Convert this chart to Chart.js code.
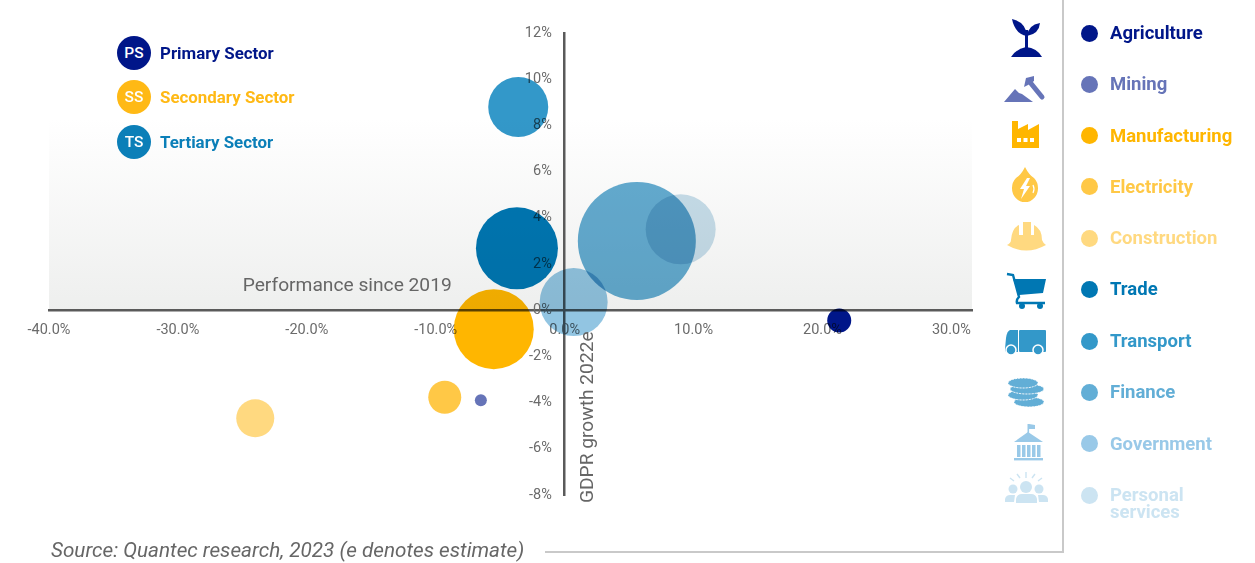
<!DOCTYPE html>
<html>
<head>
<meta charset="utf-8">
<title>Sector performance and GDPR growth</title>
<script src="https://cdn.jsdelivr.net/npm/chart.js@4"></script>
<style>
  html, body { margin: 0; padding: 0; background: #fff; }
  #page { position: relative; width: 1255px; height: 563px; overflow: hidden; font-family: Roboto, sans-serif; }
  #page canvas { position: absolute; left: 0; top: 0; }
  #art { position: absolute; left: 0; top: 0; }
  .sector, .entry { position: absolute; font-weight: 700; white-space: nowrap; }
  .sector { left: 160px; font-size: 16.9px; line-height: 20px; }
  .entry { left: 1110px; font-size: 18.5px; line-height: 17px; }
  .dot { position: absolute; border-radius: 50%; }
  .badge { position: absolute; left: 117px; width: 34px; height: 34px; border-radius: 50%; color: #fff;
           font-size: 15.5px; font-weight: 500; line-height: 34px; text-align: center; }
  #source { position: absolute; left: 51px; top: 538px; font-size: 20.7px; line-height: 24px; font-style: italic; color: #666; white-space: nowrap; }
  #rule { position: absolute; left: 545px; top: 551px; width: 519px; height: 2px; background: #c9c9c9; }
  #divider { position: absolute; left: 1062px; top: 0; width: 2px; height: 553px; background: #c9c9c9; }
</style>
</head>
<body>
<div id="page">
  <canvas id="chart" width="1255" height="563"></canvas>
  <svg id="art" width="1255" height="563" viewBox="0 0 1255 563">
    <!-- Agriculture: seedling -->
    <g fill="#001689">
      <path d="M1012,19 Q1026,22 1027,36 Q1015,34 1012,19Z"/>
      <path d="M1040,23 Q1039,34 1027,36 Q1028,25 1040,23Z"/>
      <rect x="1025" y="30" width="3" height="20"/>
      <path d="M1011,57 Q1016,49 1026,47 Q1037,48 1042,57Z"/>
    </g>
    <!-- Mining: mountains and pick -->
    <g fill="#6674b8">
      <path d="M1004,102 L1015,89 L1019,93 L1022,94 L1033,102Z"/>
      <path d="M1029,81 L1042,97" stroke="#6674b8" stroke-width="5" stroke-linecap="round"/>
      <path d="M1024,87 L1026,78 L1034,76 L1034,81 L1028,85Z"/>
    </g>
    <!-- Manufacturing: factory -->
    <path fill="#ffb600" d="M1012,121 L1018,121 L1018,129 L1028,124 L1028,130 L1039,124 L1039,148 L1012,148Z"/>
    <g fill="#fff">
      <rect x="1017" y="138" width="4" height="4"/><rect x="1023.5" y="138" width="4" height="4"/><rect x="1030" y="138" width="4" height="4"/>
    </g>
    <!-- Electricity: drop with a bolt -->
    <path fill="#ffc846" d="M1025,167 Q1029,175 1034,178 A13,14 0 1 1 1016,178 Q1021,175 1025,167Z"/>
    <path fill="#fff" d="M1027,178 L1020,189 L1024,189 L1021,199 L1030,186 L1026,186 L1030,178Z"/>
    <path fill="none" stroke="#fff" stroke-width="1.2" d="M1033,185 Q1035,189 1033,193"/>
    <!-- Construction: hard hat -->
    <path fill="#ffd980" d="M1007,245 Q1011,243 1011,240 Q1012,228 1019,225 L1019,235 L1023,235 L1023,222 L1031,222 L1031,235 L1034,235 L1034,225 Q1042,229 1042,240 Q1043,243 1046,245 Q1026,256 1007,245Z"/>
    <!-- Trade: shopping cart -->
    <g fill="#0077b3" stroke="none">
      <path d="M1013,279 L1046,279 L1043,293 L1019,295Z"/>
      <path d="M1007,274 L1013,275 L1019,297 Q1016,300 1017,303 L1045,303" fill="none" stroke="#0077b3" stroke-width="2.4"/>
      <circle cx="1022" cy="306" r="3"/><circle cx="1040" cy="306" r="3"/>
    </g>
    <!-- Transport: delivery truck -->
    <g fill="#3398c9">
      <rect x="1019" y="330" width="27" height="22" rx="1"/>
      <path d="M1010,330 L1018,330 L1018,352 L1007,352 Q1005,352 1005,349 L1006,338 Q1007,331 1010,330Z"/>
      <circle cx="1011" cy="350" r="5" stroke="#fff" stroke-width="1.5"/>
      <circle cx="1038" cy="350" r="5" stroke="#fff" stroke-width="1.5"/>
    </g>
    <!-- Finance: stacked coins -->
    <g fill="#62aed6" stroke="#fff" stroke-width="1" stroke-dasharray="2 1">
      <ellipse cx="1029" cy="402" rx="15" ry="5"/>
      <ellipse cx="1023" cy="395" rx="15" ry="5"/>
      <ellipse cx="1027" cy="389" rx="17" ry="5"/>
      <ellipse cx="1023" cy="383" rx="15" ry="5"/>
    </g>
    <!-- Government: columned building with flag -->
    <g fill="#99c9e8">
      <rect x="1027.5" y="424" width="1.6" height="10"/>
      <path d="M1029,424 L1035,425 L1035,429 L1029,429Z"/>
      <path d="M1014,442 L1028,432 L1043,442Z"/>
      <rect x="1017" y="445" width="3.5" height="12"/><rect x="1022" y="445" width="3.5" height="12"/><rect x="1027" y="445" width="3.5" height="12"/><rect x="1032" y="445" width="3.5" height="12"/><rect x="1037" y="445" width="3.5" height="12"/>
      <rect x="1014" y="458" width="29" height="2.4"/>
    </g>
    <!-- Personal services: group of people -->
    <g fill="#cce4f2">
      <circle cx="1026" cy="487" r="6"/><circle cx="1013" cy="489" r="4.5"/><circle cx="1039" cy="489" r="4.5"/>
      <path d="M1016,503 L1016,499 Q1017,494 1022,494 L1031,494 Q1036,494 1037,499 L1037,503Z"/>
      <path d="M1005,502 L1005,499 Q1006,495 1010,495 L1015,495 L1014,502Z"/>
      <path d="M1048,502 L1048,499 Q1047,495 1043,495 L1038,495 L1039,502Z"/>
      <g stroke="#cce4f2" stroke-width="1.4">
        <path d="M1026,472 V478 M1017,474 L1020,478 M1035,474 L1032,478 M1010,478 L1014,481 M1042,478 L1038,481"/>
      </g>
    </g>
  </svg>
  <div id="rule"></div>
  <div id="divider"></div>
  <div id="source">Source: Quantec research, 2023 (e denotes estimate)</div>
</div>
<script>
// Sector figures: change since 2019 (%), GDPR growth for 2022e (%) and bubble radius.
const categories = ['Agriculture', 'Mining', 'Manufacturing', 'Electricity', 'Construction',
                    'Trade', 'Transport', 'Finance', 'Government', 'Personal services'];
const performanceSince2019 = [21.3, -6.5, -5.5, -9.3, -24.0, -3.7, -3.6, 5.6, 0.7, 9.0];
const growth2022e = [-0.45, -3.9, -0.82, -3.77, -4.68, 2.68, 8.8, 3.0, 0.35, 3.5];
const bubbleRadius = [12, 6, 40, 16.5, 19, 41, 30, 59, 34, 35];
const categoryColors = ['#001689', '#6674b8', '#ffb600', '#ffc846', '#ffd980',
                        '#0077b3', '#3398c9', '#64acd1', '#92c5e2', '#c8deeb'];
const labelColors = ['#001689', '#6674b8', '#ffb600', '#ffc846', '#ffd980',
                     '#0077b3', '#3398c9', '#62aed6', '#99c9e8', '#cce4f2'];
const sectorNames = ['Primary Sector', 'Secondary Sector', 'Tertiary Sector'];
const sectorCodes = ['PS', 'SS', 'TS'];
const sectorColors = ['#001689', '#ffb915', '#0b7fb8'];

const page = document.getElementById('page');

// Right-hand key: a dot and a name per category.
const keyRows = [33, 84, 135.5, 186.5, 238, 289, 341, 392, 443.5, 495];
categories.forEach((name, i) => {
  const dot = document.createElement('div');
  dot.className = 'dot';
  dot.style.cssText = `left:1081px;top:${keyRows[i] - 8.5}px;width:17px;height:17px;background:${labelColors[i]}`;
  page.appendChild(dot);
  const text = document.createElement('div');
  text.className = 'entry';
  text.style.color = labelColors[i];
  text.style.top = Math.round(keyRows[i] - 8) + 'px';
  text.innerHTML = name.replace(' ', '<br>');
  page.appendChild(text);
});

// Top-left key for the three economic sectors.
const sectorRows = [53, 97, 142];
sectorNames.forEach((name, i) => {
  const badge = document.createElement('div');
  badge.className = 'badge';
  badge.textContent = sectorCodes[i];
  badge.style.top = (sectorRows[i] - 17) + 'px';
  badge.style.background = sectorColors[i];
  page.appendChild(badge);
  const text = document.createElement('div');
  text.className = 'sector';
  text.textContent = name;
  text.style.top = (sectorRows[i] - 10) + 'px';
  text.style.color = sectorColors[i];
  page.appendChild(text);
});

// Paints the grey band above the horizontal axis, multiplies the bubbles onto it,
// and writes the two axis captions beside the axis lines.
const quadrantDecor = {
  id: 'quadrantDecor',
  beforeDraw(chart) {
    const { ctx, scales: { x, y } } = chart;
    const top = y.getPixelForValue(8.3), bottom = y.getPixelForValue(0);
    const band = ctx.createLinearGradient(0, top, 0, bottom);
    band.addColorStop(0, '#ffffff');
    band.addColorStop(1, '#eeefee');
    ctx.save();
    ctx.fillStyle = '#ffffff';
    ctx.fillRect(0, 0, chart.width, chart.height);
    ctx.fillStyle = band;
    ctx.fillRect(x.left, top, x.right - x.left, bottom - top);
    ctx.restore();
  },
  beforeDatasetDraw(chart) {
    chart.ctx.save();
    chart.ctx.globalCompositeOperation = 'multiply';
  },
  afterDatasetDraw(chart) {
    chart.ctx.restore();
  },
  afterDraw(chart) {
    const { ctx, scales: { x, y } } = chart;
    ctx.save();
    ctx.fillStyle = '#666';
    ctx.textBaseline = 'middle';
    ctx.textAlign = 'right';
    ctx.font = '19.2px Roboto, sans-serif';
    ctx.fillText('Performance since 2019', x.getPixelForValue(-8.76), y.getPixelForValue(1.05));
    ctx.translate(x.getPixelForValue(1.8), y.getPixelForValue(-8.35));
    ctx.rotate(-Math.PI / 2);
    ctx.textAlign = 'left';
    ctx.fillText('GDPR growth 2022e', 0, 0);
    ctx.restore();
  }
};

new Chart(document.getElementById('chart'), {
  type: 'bubble',
  data: {
    datasets: categories.map((name, i) => ({
      label: name,
      data: [{ x: performanceSince2019[i], y: growth2022e[i], r: bubbleRadius[i] }],
      backgroundColor: categoryColors[i],
      borderWidth: 0,
      hoverBorderWidth: 0
    }))
  },
  options: {
    responsive: false,
    animation: false,
    // The plot bounds are set by hand, so the largest bubble must not widen them.
    layout: { autoPadding: false, padding: { left: 49, right: 283, top: 33, bottom: 68 } },
    plugins: { legend: { display: false }, tooltip: { enabled: false } },
    scales: {
      x: {
        type: 'linear',
        min: -40,
        max: 31.6,
        position: { y: 0 },
        z: 1,
        grid: { display: false, drawTicks: false },
        border: { color: '#5a5a5a', width: 2.5 },
        ticks: {
          stepSize: 10,
          includeBounds: false,
          maxRotation: 0,
          padding: 11,
          color: '#6b6b6b',
          font: { family: 'Roboto', size: 14.5 },
          callback: value => value.toFixed(1) + '%'
        }
      },
      // Carries the percentage labels, set slightly left of the vertical axis line.
      y: {
        type: 'linear',
        min: -8,
        max: 12,
        position: { x: -1 },
        z: 1,
        grid: { display: false, drawTicks: false },
        border: { display: false },
        ticks: {
          stepSize: 2,
          color: '#6b6b6b',
          font: { family: 'Roboto', size: 14.5 },
          callback: value => value + '%'
        }
      },
      // The vertical axis line itself, crossing at zero performance.
      yLine: {
        type: 'linear',
        min: -8,
        max: 12,
        position: { x: 0 },
        z: 1,
        grid: { display: false, drawTicks: false },
        border: { color: '#5a5a5a', width: 2.5 },
        ticks: { display: false }
      }
    }
  },
  plugins: [quadrantDecor]
});
</script>
</body>
</html>
